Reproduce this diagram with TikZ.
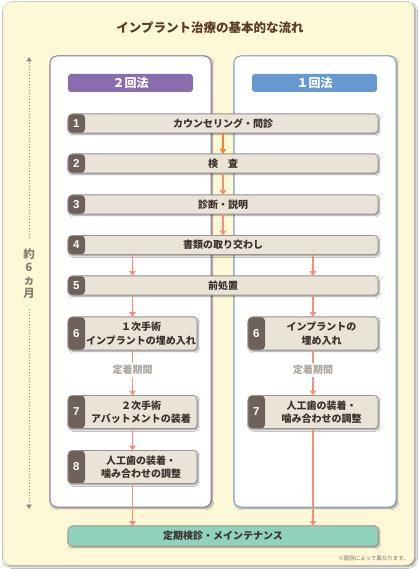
\documentclass[tikz,border=0pt]{standalone}
\usepackage{fontspec}
\setmainfont{Noto Sans CJK JP}
\newfontfamily\numf{Liberation Sans}
\usetikzlibrary{arrows.meta,shadows.blur}
\definecolor{bgy}{HTML}{FDF8D6}
\definecolor{bgline}{HTML}{E6DFC0}
\definecolor{titlec}{HTML}{5B3A29}
\definecolor{purpleb}{HTML}{8E7AB5}
\definecolor{purplef}{HTML}{8A6DAF}
\definecolor{blueb}{HTML}{7BA6D9}
\definecolor{bluef}{HTML}{6699CF}
\definecolor{beige}{HTML}{E9E3D8}
\definecolor{barline}{HTML}{9C938C}
\definecolor{numdark}{HTML}{6E605B}
\definecolor{salmon}{HTML}{F2907A}
\definecolor{orangeA}{HTML}{F08232}
\definecolor{teal}{HTML}{8FD3BE}
\definecolor{graytxt}{HTML}{ABA49E}
\definecolor{durc}{HTML}{8A7D72}
\definecolor{dotc}{HTML}{8C8C8C}
\definecolor{txtc}{HTML}{3A302C}
\tikzset{
  shad/.style={blur shadow={shadow xshift=1.3pt,shadow yshift=-1.3pt,shadow blur radius=1.6pt,shadow opacity=45}},
  panel/.style={draw, line width=1pt, fill=white, rounded corners=7pt, shad, inner sep=0},
  hdr/.style={rounded corners=3pt, text=white, inner sep=0, minimum width=125pt, minimum height=18pt, font=\fontsize{12}{12}\selectfont\bfseries},
  bar/.style={draw=barline, line width=0.6pt, fill=beige, rounded corners=4pt, shad, inner sep=0, text=txtc,
    font=\fontsize{10}{13}\selectfont\bfseries,
    path picture={\fill[numdark] (path picture bounding box.north west) rectangle ([xshift=17pt]path picture bounding box.south west);}},
  longbar/.style={bar, minimum width=310pt, minimum height=19pt},
  smallbar/.style={bar, minimum width=129pt, minimum height=33pt},
  numtxt/.style={text=white, inner sep=0, font=\numf\fontsize{11.5}{11.5}\selectfont\bfseries},
  boxtxt/.style={text=txtc, inner sep=0, align=center, font=\fontsize{10}{13.5}\selectfont\bfseries},
  arr/.style={salmon, line width=1.2pt, -{Triangle[width=6.5pt,length=4.5pt]}},
  plain/.style={salmon, line width=1.2pt},
  dotarr/.style={dotc, line width=1pt, dotted, -{Triangle[width=5.5pt,length=4.5pt]}},
  period/.style={text=graytxt, inner xsep=0, inner ysep=2pt, font=\fontsize{10}{10}\selectfont\bfseries},
}
\begin{document}
\begin{tikzpicture}[x=1pt,y=-1pt]
\useasboundingbox (0,0) rectangle (418,569);
% background
\fill[white] (0,0) rectangle (418,569);
\path[fill=bgy, draw=bgline, line width=0.5pt, rounded corners=8pt, blur shadow={shadow xshift=1.5pt,shadow yshift=-1.5pt,shadow blur radius=2pt,shadow opacity=50}] (3,2) rectangle (414,565);
% title
\node[text=titlec, font=\fontsize{12.5}{12.5}\selectfont\bfseries] (title) at (210,28) {インプラント治療の基本的な流れ};
% duration
\node[text=durc, align=center, inner sep=0, minimum height=70pt, font=\fontsize{11.5}{13}\selectfont\bfseries] (dur) at (29,273.5) {約\\6\\ヵ\\月};
\coordinate (dtop) at (29,57);
\coordinate (dbot) at (29,509);
\draw[dotarr] (dur.north) -- (dtop);
\draw[dotarr] (dur.south) -- (dbot);
% panels
\node[panel, draw=purpleb, minimum width=161pt, minimum height=451pt] (pl) at (130.5,281.5) {};
\node[panel, draw=blueb, minimum width=162pt, minimum height=451pt] (pr) at (315,281.5) {};
\node[hdr, fill=purplef] (hl) at (130.5,83) {２回法};
\node[hdr, fill=bluef] (hr) at (314.5,83) {１回法};
% common steps
\node[longbar] (s1) at (223,123.5) {カウンセリング・問診};
\node[longbar] (s2) at (223,163.5) {検　査};
\node[longbar] (s3) at (223,204.5) {診断・説明};
\node[longbar] (s4) at (223,245) {書類の取り交わし};
\node[longbar] (s5) at (223,285.5) {前処置};
\foreach \i in {1,...,5}{\node[numtxt] (n\i) at ([xshift=8.5pt]s\i.west) {\i};}
% left column boxes
\node[smallbar] (l6) at (132.5,333.5) {};
\node[smallbar] (l7) at (132.5,412) {};
\node[smallbar] (l8) at (132.5,467) {};
% right column boxes
\node[smallbar, minimum width=130pt] (r6) at (313,333.5) {};
\node[smallbar, minimum width=130pt] (r7) at (313,412) {};
\node[numtxt] (nl6) at ([xshift=8.5pt]l6.west) {6};
\node[numtxt] (nl7) at ([xshift=8.5pt]l7.west) {7};
\node[numtxt] (nl8) at ([xshift=8.5pt]l8.west) {8};
\node[numtxt] (nr6) at ([xshift=8.5pt]r6.west) {6};
\node[numtxt] (nr7) at ([xshift=8.5pt]r7.west) {7};
\node[boxtxt] (tl6) at ([xshift=8.5pt]l6.center) {１次手術\\インプラントの埋め入れ};
\node[boxtxt] (tl7) at ([xshift=8.5pt]l7.center) {２次手術\\アバットメントの装着};
\node[boxtxt] (tl8) at ([xshift=8.5pt]l8.center) {人工歯の装着・\\噛み合わせの調整};
\node[boxtxt] (tr6) at ([xshift=8.5pt]r6.center) {インプラントの\\埋め入れ};
\node[boxtxt] (tr7) at ([xshift=8.5pt]r7.center) {人工歯の装着・\\噛み合わせの調整};
% final
\node[bar, path picture={}, fill=teal, minimum width=310pt, minimum height=20pt] (fin) at (223,536) {定期検診・メインテナンス};
% periods
\node[period] (kl) at (132.5,370) {定着期間};
\node[period] (kr) at (313,370) {定着期間};
% arrows
\draw[arr, orangeA] (s1.south) -- (s2.north);
\draw[arr] (s2.south) -- (s3.north);
\draw[arr] (s3.south) -- (s4.north);
\draw[arr] (s4.south -| l6.center) -- (s5.north -| l6.center);
\draw[arr] (s4.south -| r6.center) -- (s5.north -| r6.center);
\draw[arr] (s5.south -| l6.center) -- (l6.north);
\draw[arr] (s5.south -| r6.center) -- (r6.north);
\draw[plain] (l6.south) -- (kl.north);
\draw[plain] (r6.south) -- (kr.north);
\draw[arr] (kl.south) -- (l7.north);
\draw[arr] (kr.south) -- (r7.north);
\draw[arr] (l7.south) -- (l8.north);
\draw[arr] (l8.south) -- (fin.north -| l8.south);
\draw[arr] (r7.south) -- (fin.north -| r7.south);
% note
\node[anchor=east, text=txtc!70, inner sep=0, font=\fontsize{5.5}{5.5}\selectfont] (note) at (409,558) {※医院によって異なります。};
\end{tikzpicture}
\end{document}
